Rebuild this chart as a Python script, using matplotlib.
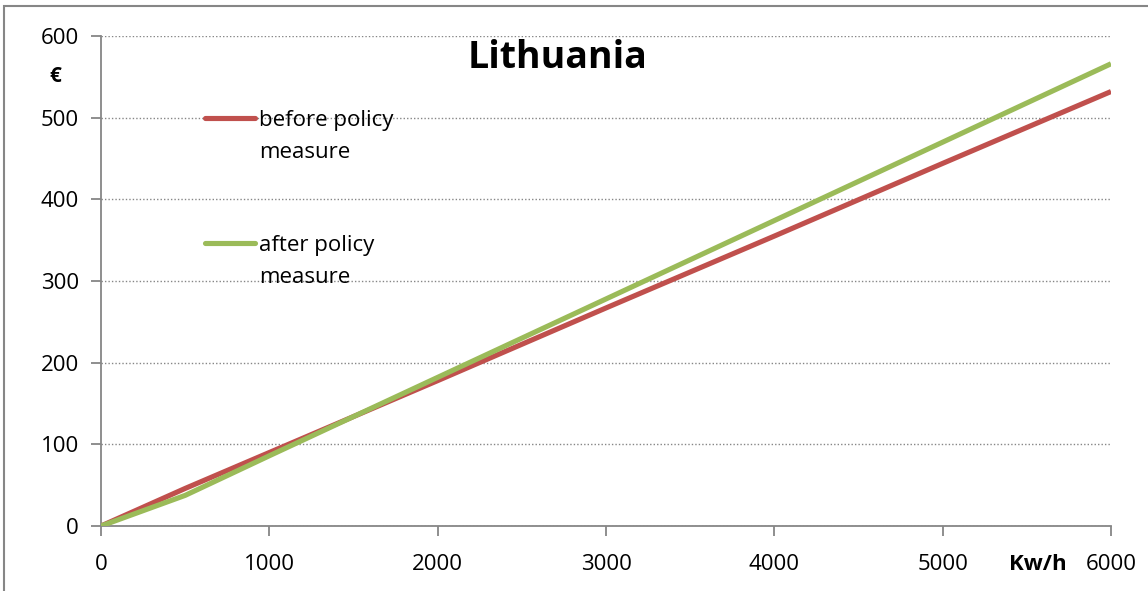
import matplotlib.pyplot as plt
from matplotlib.lines import Line2D
from matplotlib.patches import Rectangle

# data
kwh = [0, 500, 1000, 2000, 3000, 4000, 5000, 6000]
before_policy = [0, 46, 90, 178, 267, 355, 444, 532]
after_policy = [0, 37.5, 86, 182, 278, 374, 470, 566]
x_ticks = [0, 1000, 2000, 3000, 4000, 5000, 6000]
y_ticks = [0, 100, 200, 300, 400, 500, 600]
series_names = ['before policy\nmeasure', 'after policy\nmeasure']

RED = '#C0504D'
GREEN = '#9BBB59'
AXIS_GRAY = '#868686'

W, H = 1148, 591
plt.rcParams['font.family'] = ['Open Sans', 'DejaVu Sans']

fig = plt.figure(figsize=(W / 100, H / 100), dpi=100)

def fx(px):
    return px / W

def fy(py):
    return 1 - py / H

ax = fig.add_axes([fx(101), fy(526), fx(1111) - fx(101), fy(36) - fy(526)])

ax.plot(kwh, before_policy, color=RED, lw=3.7, solid_capstyle='butt', zorder=3)
ax.plot(kwh, after_policy, color=GREEN, lw=3.7, solid_capstyle='butt', zorder=4)

ax.set_xlim(0, 6000)
ax.set_ylim(0, 600)
ax.set_xticks(x_ticks)
ax.set_yticks(y_ticks)
ax.tick_params(axis='both', direction='out', length=7, width=1.3, color=AXIS_GRAY,
               labelsize=16, labelcolor='black')
ax.tick_params(axis='x', pad=13)
ax.tick_params(axis='y', pad=9)
ax.grid(axis='y', color=AXIS_GRAY, linestyle=(0, (1, 1.5)), linewidth=1.0)
ax.set_axisbelow(True)
for side in ['top', 'right']:
    ax.spines[side].set_visible(False)
for side in ['left', 'bottom']:
    ax.spines[side].set_color(AXIS_GRAY)
    ax.spines[side].set_linewidth(1.3)

# title and axis names
fig.text(fx(558), fy(58), 'Lithuania', fontsize=27, fontweight='bold',
         ha='center', va='center')
fig.text(fx(55), fy(76), '€', fontsize=15, fontweight='bold', ha='center', va='center')
fig.text(fx(1038), fy(564), 'Kw/h', fontsize=16, fontweight='bold', ha='center', va='center')

# legend, drawn inside the plot like the original
for name, color, ly in [(series_names[0], RED, 117.5), (series_names[1], GREEN, 242.5)]:
    fig.add_artist(Line2D([fx(205), fx(255)], [fy(ly), fy(ly)], color=color, lw=3.7,
                          solid_capstyle='round'))
    fig.text(fx(259), fy(ly + 19), name, fontsize=16, ha='left', va='center',
             linespacing=1.7)

# outer chart frame
fig.add_artist(Rectangle((fx(4), fy(H + 10)), fx(W + 10), fy(6) - fy(H + 10),
                         fill=False, edgecolor=AXIS_GRAY, lw=1.5))

fig.savefig('out.png', dpi=100)
